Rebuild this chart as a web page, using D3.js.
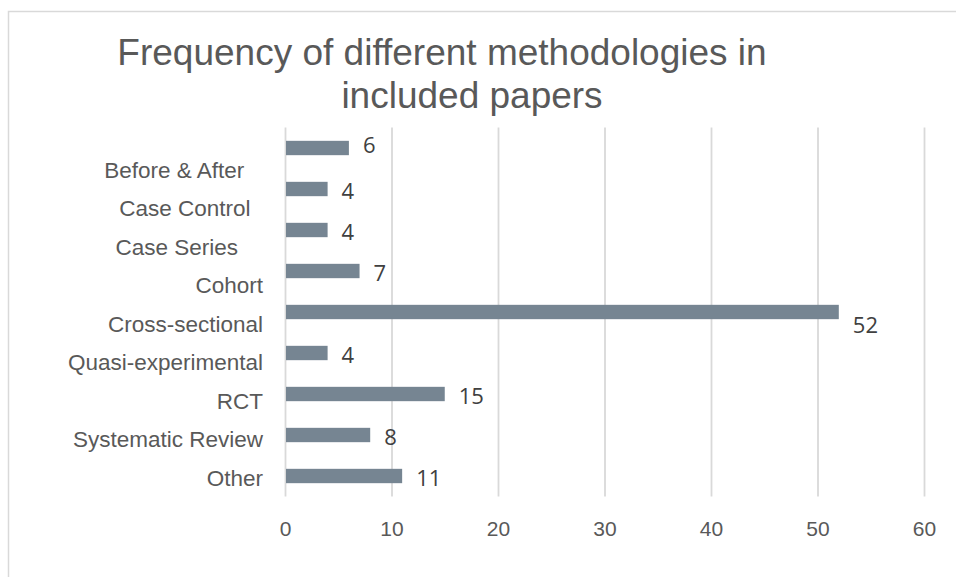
<!DOCTYPE html>
<html>
<head>
<meta charset="utf-8">
<script src="https://cdn.jsdelivr.net/npm/d3@7"></script>
<style>
  html, body { margin: 0; padding: 0; background: #fff; }
  svg { display: block; font-family: "Liberation Sans", Arial, sans-serif; }
  .cat { white-space: pre; }
</style>
</head>
<body>
<svg id="chart" width="956" height="577"></svg>
<script>
// Data (top to bottom)
const categories = ["Before & After   ", "Case Control  ", "Case Series    ", "Cohort",
    "Cross-sectional", "Quasi-experimental", "RCT", "Systematic Review", "Other"];
const counts = [6, 4, 4, 7, 52, 4, 15, 8, 11];
const xTicks = [0, 10, 20, 30, 40, 50, 60];
const titleLines = ["Frequency of different methodologies in", "included papers"];

const svg = d3.select("#chart");

// outer chart frame (runs off the right/bottom edge)
svg.append("rect")
    .attr("x", 8.5).attr("y", 11.5)
    .attr("width", 1000).attr("height", 700)
    .attr("fill", "none")
    .attr("stroke", "#d9d9d9")
    .attr("stroke-width", 1.5);

// title
const title = svg.append("text")
    .attr("fill", "#595959")
    .attr("font-size", 37);
title.append("tspan").attr("x", 442).attr("y", 65).text(titleLines[0]);
title.append("tspan").attr("x", 472).attr("y", 108).text(titleLines[1]);
title.attr("text-anchor", "middle");

const x = d3.scaleLinear().domain([0, 60]).range([285, 924]);
const y = d3.scaleBand().domain(d3.range(categories.length))
    .range([127.5, 496.5])
    .paddingInner(0.65)
    .paddingOuter(0.325);

// category labels sit on their own slightly tighter spacing
const yLabel = d3.scalePoint().domain(d3.range(categories.length)).range([170, 478]);

// gridlines
const grid = svg.append("g")
    .attr("transform", "translate(0,496.5)")
    .call(d3.axisBottom(x).tickValues(xTicks).tickSize(-369).tickFormat(""));
grid.select(".domain").remove();
grid.selectAll("line").attr("stroke", "#d9d9d9").attr("stroke-width", 1.8);

// tick labels
const axis = svg.append("g")
    .attr("transform", "translate(0,529)")
    .call(d3.axisBottom(x).tickValues(xTicks).tickSize(0).tickPadding(0));
axis.select(".domain").remove();
axis.selectAll("text")
    .attr("dy", "0.35em")
    .attr("fill", "#595959")
    .attr("font-size", 21)
    .attr("font-family", "Liberation Sans, Arial, sans-serif");

// bars
svg.append("g").selectAll("rect")
    .data(counts)
    .join("rect")
    .attr("x", x(0) + 1)
    .attr("y", (d, i) => y(i))
    .attr("width", d => x(d) - x(0) - 1)
    .attr("height", y.bandwidth())
    .attr("fill", "#768592");

// value labels (a couple are nudged in the original)
const labelNudge = { 0: -5, 4: 11 };
svg.append("g").selectAll("text")
    .data(counts)
    .join("text")
    .attr("x", d => x(d) + 14)
    .attr("y", (d, i) => y(i) + y.bandwidth() / 2 + 2 + (labelNudge[i] || 0))
    .attr("dy", "0.35em")
    .attr("fill", "#404040")
    .attr("font-size", 22)
    .attr("font-family", "Open Sans, sans-serif")
    .text(d => d);

// category labels
svg.append("g").selectAll("text")
    .data(categories)
    .join("text")
    .attr("class", "cat")
    .attr("x", 263)
    .attr("y", (d, i) => yLabel(i))
    .attr("dy", "0.35em")
    .attr("text-anchor", "end")
    .attr("fill", "#595959")
    .attr("font-size", 22.5)
    .text(d => d);
</script>
</body>
</html>
